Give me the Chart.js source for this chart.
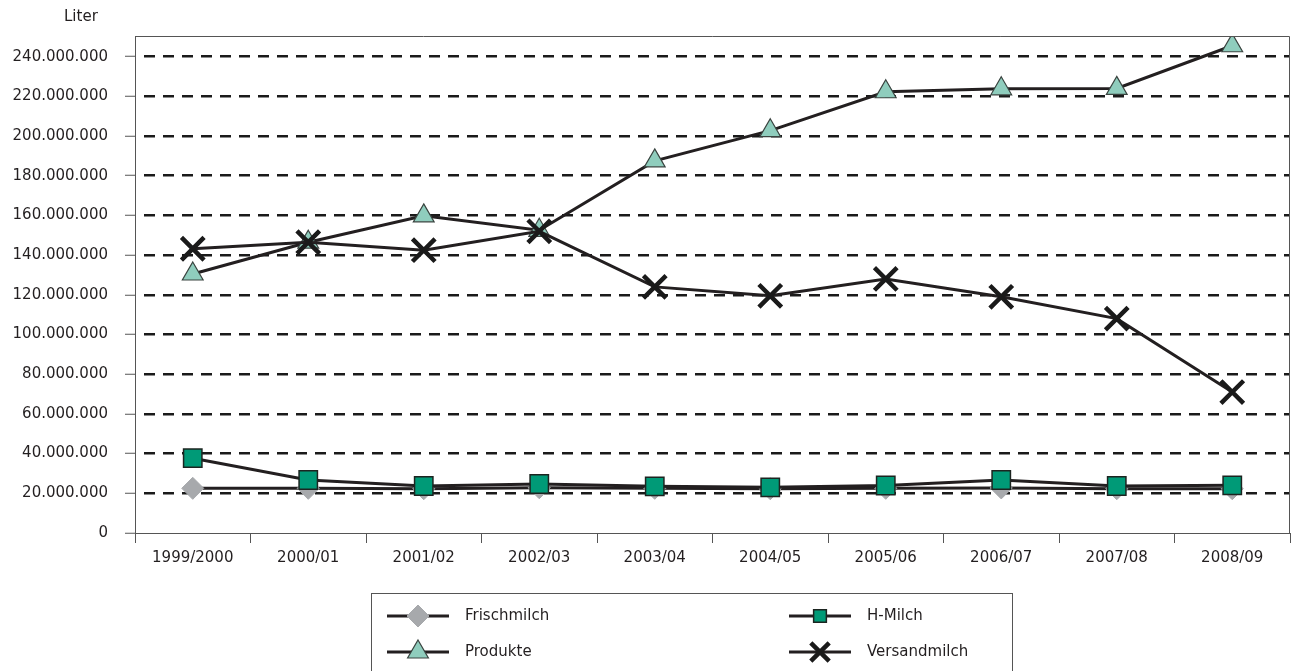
<!DOCTYPE html>
<html>
<head>
	<meta charset="UTF-8">
	<title>Milch</title>
	<script src="https://cdn.jsdelivr.net/npm/chart.js"></script>
	<style>
	html, body{margin:0; padding:0; background:#fff; overflow:hidden;}
	#wrap{width:1293px; height:671px; position:relative;}
	canvas{display:block;}
	</style>
</head>
<body>
	<div id="wrap">
	  <canvas id="myChart"></canvas>
	</div>
	<script>
	// Daten
	var categories = ['1999/2000', '2000/01', '2001/02', '2002/03', '2003/04', '2004/05', '2005/06', '2006/07', '2007/08', '2008/09'];
	var frischmilch = [22500000, 22500000, 22300000, 22800000, 22500000, 22300000, 22500000, 22700000, 22300000, 22300000];
	var hMilch = [37700000, 26700000, 23700000, 24700000, 23500000, 23000000, 23900000, 26700000, 23700000, 24000000];
	var produkte = [130500000, 146500000, 159800000, 152500000, 187500000, 202700000, 222300000, 223800000, 224000000, 245500000];
	var versandmilch = [143200000, 146500000, 142500000, 152000000, 124000000, 119500000, 128000000, 119000000, 108000000, 71000000];
	var yTicks = [0, 20000000, 40000000, 60000000, 80000000, 100000000, 120000000, 140000000, 160000000, 180000000, 200000000, 220000000, 240000000];

	var FONT = 'DejaVu Sans';
	var TXT = '#231f20';
	var LINE = '#231f20';

	function fmt(v){
		return String(v).replace(/\B(?=(\d{3})+(?!\d))/g, '.');
	}

	function drawShape(ctx, style, x, y, r){
		if (style === 'rectRot'){
			ctx.moveTo(x - r, y); ctx.lineTo(x, y - r); ctx.lineTo(x + r, y); ctx.lineTo(x, y + r); ctx.closePath();
		} else if (style === 'rect'){
			var s = r * Math.SQRT1_2;
			ctx.rect(x - s, y - s, 2 * s, 2 * s);
		} else if (style === 'triangle'){
			var w = r * Math.sqrt(3) / 2;
			ctx.moveTo(x, y - r); ctx.lineTo(x + w, y + r / 2); ctx.lineTo(x - w, y + r / 2); ctx.closePath();
		} else {
			var o = r * Math.SQRT1_2;
			ctx.moveTo(x - o, y - o); ctx.lineTo(x + o, y + o);
			ctx.moveTo(x + o, y - o); ctx.lineTo(x - o, y + o);
		}
	}

	// Rahmen oben/rechts + "Liter" + Legende
	var extras = {
		id: 'extras',
		afterDraw: function(chart){
			var ctx = chart.ctx;
			var a = chart.chartArea;
			ctx.save();
			ctx.strokeStyle = '#555';
			ctx.lineWidth = 1;
			ctx.beginPath();
			ctx.moveTo(a.left, a.top + 0.5);
			ctx.lineTo(a.right - 0.5, a.top + 0.5);
			ctx.lineTo(a.right - 0.5, a.bottom);
			ctx.stroke();

			ctx.fillStyle = TXT;
			ctx.font = '15px "' + FONT + '"';
			ctx.textAlign = 'left';
			ctx.textBaseline = 'middle';
			ctx.fillText('Liter', 64, 17);

			// Legende
			ctx.strokeStyle = '#555';
			ctx.strokeRect(371.5, 593.5, 641, 90);
			var items = [
				{label: 'Frischmilch', ds: 0, x: 387, y: 616},
				{label: 'H-Milch', ds: 1, x: 789, y: 616},
				{label: 'Produkte', ds: 2, x: 387, y: 652},
				{label: 'Versandmilch', ds: 3, x: 789, y: 652}
			];
			items.forEach(function(it){
				var ds = chart.data.datasets[it.ds];
				ctx.strokeStyle = LINE;
				ctx.lineWidth = 3;
				ctx.beginPath();
				ctx.moveTo(it.x, it.y);
				ctx.lineTo(it.x + 62, it.y);
				ctx.stroke();
				ctx.fillStyle = ds.pointBackgroundColor;
				ctx.strokeStyle = ds.pointBorderColor;
				ctx.lineWidth = ds.pointBorderWidth;
				ctx.beginPath();
				drawShape(ctx, ds.pointStyle, it.x + 31, it.y, ds.legendRadius);
				if (ds.pointStyle !== 'crossRot') ctx.fill();
				ctx.stroke();
				ctx.fillStyle = TXT;
				ctx.font = '15px "' + FONT + '"';
				ctx.fillText(it.label, it.x + 78, it.y);
			});
			ctx.restore();
		}
	};

	var ctx = document.getElementById('myChart');
	new Chart(ctx, {
		type: 'line',
		data: {
			labels: categories,
			datasets: [{
				label: 'Frischmilch',
				data: frischmilch,
				borderColor: LINE,
				borderWidth: 3,
				pointStyle: 'rectRot',
				pointRadius: 11,
				legendRadius: 11,
				pointBackgroundColor: '#a7a9ac',
				pointBorderColor: '#a7a9ac',
				pointBorderWidth: 1,
				order: 4
			}, {
				label: 'H-Milch',
				data: hMilch,
				borderColor: LINE,
				borderWidth: 3,
				pointStyle: 'rect',
				pointRadius: 13,
				legendRadius: 9,
				pointBackgroundColor: '#009a77',
				pointBorderColor: '#1c2420',
				pointBorderWidth: 1.5,
				order: 1
			}, {
				label: 'Produkte',
				data: produkte,
				borderColor: LINE,
				borderWidth: 3,
				pointStyle: 'triangle',
				pointRadius: 12,
				legendRadius: 12,
				pointBackgroundColor: '#8fcdbd',
				pointBorderColor: '#3a4440',
				pointBorderWidth: 1.2,
				order: 3
			}, {
				label: 'Versandmilch',
				data: versandmilch,
				borderColor: LINE,
				borderWidth: 3,
				pointStyle: 'crossRot',
				pointRadius: 16,
				legendRadius: 13,
				pointBackgroundColor: '#1a1a1a',
				pointBorderColor: '#1a1a1a',
				pointBorderWidth: 4.5,
				order: 2
			}]
		},
		options: {
			responsive: true,
			maintainAspectRatio: false,
			animation: false,
			events: [],
			layout: {autoPadding: false, padding: {top: 36, right: 3, bottom: 93, left: 0}},
			plugins: {legend: {display: false}, tooltip: {enabled: false}},
			scales: {
				x: {
					offset: true,
					grid: {
						offset: true,
						drawOnChartArea: false,
						tickLength: 10,
						tickColor: '#555',
						tickWidth: 1
					},
					border: {display: true, color: '#555', width: 1},
					ticks: {
						color: TXT,
						font: {family: FONT, size: 15},
						padding: 6,
						maxRotation: 0,
						autoSkip: false
					},
					afterFit: function(s){ s.height = 45; }
				},
				y: {
					min: 0,
					max: 250400000,
					afterBuildTicks: function(s){
						s.ticks = yTicks.map(function(v){ return {value: v}; });
					},
					grid: {
						color: function(c){ return c.tick && c.tick.value === 0 ? 'rgba(0,0,0,0)' : '#1a1a1a'; },
						lineWidth: 2.5,
						tickLength: 10,
						tickColor: '#555',
						tickWidth: 1,
						tickBorderDash: []
					},
					border: {display: true, color: '#555', width: 1, dash: [11, 8], dashOffset: 11},
					ticks: {
						color: TXT,
						font: {family: FONT, size: 15},
						padding: 17,
						callback: function(v){ return fmt(v); }
					},
					afterFit: function(s){ s.width = 135; }
				}
			}
		},
		plugins: [extras]
	});
	</script>
</body>
</html>
